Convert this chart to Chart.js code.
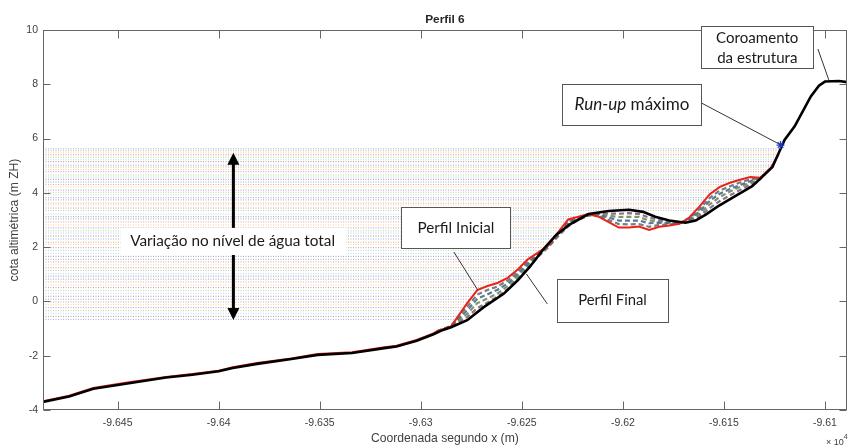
<!DOCTYPE html>
<html><head><meta charset="utf-8">
<script src="https://cdn.jsdelivr.net/npm/chart.js@4.4.0/dist/chart.umd.min.js"></script>
<style>html,body{margin:0;padding:0;background:#fff;}canvas{display:block;}</style>
</head><body>
<canvas id="c" width="852" height="446"></canvas>
<script>
// ---------------- DATA ----------------
const titleText = 'Perfil 6';
const xTitle = 'Coordenada segundo x (m)';
const yTitle = 'cota altimétrica (m ZH)';
const X_MIN = -96486.9, X_MAX = -96089.2, Y_MIN = -4, Y_MAX = 10;
const xTicks = [-96450, -96400, -96350, -96300, -96250, -96200, -96150, -96100];
const xTickLabels = ['-9.645', '-9.64', '-9.635', '-9.63', '-9.625', '-9.62', '-9.615', '-9.61'];
const yTicks = [-4, -2, 0, 2, 4, 6, 8, 10];

// Final profile (black)
const finalX = [-96487,-96474,-96462,-96446,-96426,-96413,-96400,-96393,-96381,-96364,-96351,-96334,-96318,-96312,-96302,-96294,-96289,-96285,-96277,-96269,-96259,-96252,-96246,-96239,-96233,-96226,-96217,-96207,-96197,-96190,-96184,-96177,-96169,-96164,-96159,-96153,-96144,-96136,-96133,-96126,-96123,-96120,-96115,-96111,-96107,-96103,-96100,-96093,-96089];
const finalY = [-3.70,-3.50,-3.22,-3.03,-2.80,-2.70,-2.57,-2.45,-2.30,-2.12,-1.97,-1.90,-1.72,-1.66,-1.45,-1.22,-1.05,-0.95,-0.69,-0.22,0.28,0.78,1.28,1.95,2.45,2.85,3.22,3.33,3.38,3.30,3.12,2.98,2.90,2.98,3.20,3.50,3.90,4.25,4.45,4.95,5.45,5.95,6.45,7.00,7.55,7.95,8.10,8.12,8.08];

// Initial profile (red)
const initX = [-96487,-96474,-96462,-96446,-96426,-96413,-96400,-96393,-96381,-96364,-96351,-96334,-96318,-96312,-96302,-96294,-96292,-96285,-96277,-96272,-96267,-96262,-96257,-96252,-96247,-96242,-96237,-96232,-96227,-96222,-96217,-96212,-96207,-96202,-96197,-96192,-96187,-96182,-96177,-96172,-96167,-96162,-96157,-96152,-96147,-96142,-96137,-96132,-96127,-96123];
const initY = [-3.68,-3.47,-3.19,-3.00,-2.78,-2.67,-2.55,-2.42,-2.27,-2.10,-1.94,-1.87,-1.69,-1.63,-1.42,-1.19,-1.10,-0.92,-0.06,0.42,0.57,0.68,0.87,1.18,1.55,1.80,2.05,2.55,3.02,3.12,3.22,3.12,2.92,2.72,2.72,2.76,2.63,2.75,2.80,2.86,3.10,3.50,3.95,4.22,4.37,4.48,4.58,4.56,4.90,5.40];

// Intermediate profiles (dashed)
const midX = [-96292,-96285,-96277,-96272,-96267,-96262,-96257,-96252,-96247,-96242,-96237,-96232,-96227,-96222,-96217,-96212,-96207,-96202,-96197,-96192,-96187,-96182,-96177,-96172,-96167,-96162,-96157,-96152,-96147,-96142,-96137,-96132,-96127];
const mid1Y = [-1.10,-0.90,-0.19,0.25,0.42,0.55,0.77,1.09,1.46,1.76,2.03,2.50,2.95,3.09,3.21,3.15,3.00,2.85,2.84,2.85,2.75,2.82,2.84,2.88,3.06,3.40,3.82,4.09,4.24,4.38,4.50,4.55,4.90];
const mid2Y = [-1.10,-0.91,-0.32,0.10,0.26,0.43,0.66,1.00,1.38,1.73,2.02,2.47,2.90,3.06,3.19,3.18,3.09,2.98,2.98,2.98,2.88,2.90,2.88,2.89,3.02,3.32,3.71,3.97,4.14,4.29,4.43,4.53,4.90];
const mid3Y = [-1.10,-0.92,-0.45,-0.06,0.11,0.30,0.56,0.91,1.29,1.69,2.01,2.44,2.84,3.03,3.17,3.21,3.16,3.11,3.12,3.11,2.98,2.95,2.91,2.90,2.99,3.22,3.58,3.85,4.05,4.22,4.37,4.52,4.90];
const mid4Y = [-1.10,-0.93,-0.57,-0.25,-0.04,0.18,0.45,0.82,1.20,1.64,1.99,2.40,2.77,3.00,3.16,3.23,3.24,3.23,3.25,3.22,3.09,3.01,2.95,2.91,2.95,3.14,3.44,3.70,3.91,4.11,4.30,4.51,4.90];
const midYs = [mid1Y, mid2Y, mid3Y, mid4Y];

// Water levels (dotted horizontal lines) and where each one meets the profile
const waterLevels = [5.62,5.55,5.47,5.40,5.31,5.22,5.15,5.02,4.95,4.86,4.78,4.66,4.58,4.50,4.40,4.31,4.22,4.10,4.02,3.93,3.82,3.74,3.62,3.55,3.44,3.35,3.22,3.12,3.04,2.93,2.82,2.71,2.60,2.52,2.41,2.30,2.18,2.10,1.98,1.88,1.77,1.66,1.55,1.46,1.35,1.24,1.14,1.02,0.93,0.82,0.72,0.60,0.51,0.40,0.30,0.19,0.08,-0.02,-0.12,-0.23,-0.34,-0.44,-0.55,-0.66];
const waterEnds = [-96122,-96123,-96123.5,-96124,-96124.5,-96125,-96125.5,-96126,-96126.5,-96127,-96128,-96130,-96132,-96136,-96144,-96148,-96151,-96153,-96155,-96157,-96158,-96159,-96160,-96161,-96162,-96163,-96218,-96224,-96226,-96229,-96230,-96231.5,-96232,-96233,-96234,-96235,-96236,-96237,-96238,-96240,-96242.5,-96244.5,-96246.5,-96248,-96249.5,-96251.5,-96253,-96255,-96256.5,-96258.5,-96261,-96265,-96269,-96272,-96274,-96275,-96276,-96277,-96278,-96279,-96280,-96281,-96282,-96283];

// Maximum run-up point
const runupX = [-96122];
const runupY = [5.76];

// Annotation texts
const txtVariacao = 'Variação no nível de água total';
const txtInicial = 'Perfil Inicial';
const txtFinal = 'Perfil Final';
const txtRunupItalic = 'Run-up';
const txtRunupRest = ' máximo';
const txtCoroa = ['Coroamento', 'da estrutura'];

// ---------------- LAYOUT (data coords for annotations) ----------------
const NOTES = {
  variacao: { box: [-96448.5, 2.71, -96336.8, 1.71], center: [-96393.1, 2.21], width: 205, arrowX: -96392.7, arrowTop: 5.48, arrowBottom: -0.68 },
  inicial: { box: [-96309.7, 3.48, -96255.6, 1.97], center: [-96282.6, 2.71], width: 77, leader: [[-96283.6, 1.82], [-96271.8, 0.42]] },
  final: { box: [-96232.4, 0.83, -96177.8, -0.76], center: [-96205.1, 0.03], width: 68.6, leader: [[-96237.4, -0.09], [-96247.7, 1.01]] },
  runup: { box: [-96230.0, 8.01, -96161.1, 6.50], center: [-96195.5, 7.24], width: 118, leader: [[-96161.1, 7.31], [-96121.7, 5.76]] },
  coroa: { box: [-96161.1, 10.15, -96106.0, 8.60], center: [-96133.5, 9.71, 8.97], width: 82.4, leader: [[-96103.5, 9.30], [-96098.1, 8.16]] }
};
const CALLOUT_FONT = 'Lato, "Open Sans", sans-serif';
const AXIS_FONT = '"Liberation Sans", Arial, sans-serif';

const matlab = [[0,114,189],[217,83,25],[237,177,32],[126,47,142],[119,172,48],[77,190,238],[162,20,47]];
const midColors = ['rgba(110,110,110,0.9)','rgba(70,105,150,0.9)','rgba(110,140,80,0.9)','rgba(130,95,130,0.9)'];

// ---------------- DATASETS ----------------
const zip = (xs, ys) => xs.map((v, i) => ({x: v, y: ys[i]}));
const datasets = [];
datasets.push({ data: zip(finalX, finalY), borderColor: '#000', borderWidth: 2.6, showLine: true, pointRadius: 0, order: 1 });
datasets.push({ data: zip(runupX, runupY), borderColor: '#1f3fd0', backgroundColor: '#1f3fd0', pointStyle: 'star', pointRadius: 4, borderWidth: 1.2, showLine: false, order: 0 });
datasets.push({ data: zip(initX, initY), borderColor: '#e8231b', borderWidth: 2, showLine: true, pointRadius: 0, order: 2 });
midYs.forEach((ys, i) => datasets.push({ data: zip(midX, ys), borderColor: midColors[i], borderWidth: 2.2, borderDash: [5, 3], showLine: true, pointRadius: 0, order: 3 }));
waterLevels.forEach((lv, i) => {
  const c = matlab[i % 7];
  datasets.push({ data: [{x: X_MIN, y: lv}, {x: waterEnds[i], y: lv}], borderColor: `rgba(${c[0]},${c[1]},${c[2]},0.5)`, borderWidth: 1, borderDash: [1, 1.5], showLine: true, pointRadius: 0, order: 10 });
});

// ---------------- DECORATION PLUGIN ----------------
function fit(ctx, text, style, family, target) {
  ctx.font = `${style} 100px ${family}`;
  return 100 * target / ctx.measureText(text).width;
}
const deco = {
  id: 'deco',
  afterDraw(chart) {
    const {ctx, chartArea: a, scales: {x: sx, y: sy}} = chart;
    const X = v => sx.getPixelForValue(v), Y = v => sy.getPixelForValue(v);
    ctx.save();
    // frame and inward ticks
    ctx.strokeStyle = '#666'; ctx.lineWidth = 1;
    const L = Math.round(a.left) + 0.5, R = Math.round(a.right) - 0.5, T = Math.round(a.top) + 0.5, B = Math.round(a.bottom) - 0.5;
    ctx.strokeRect(L, T, R - L, B - T);
    ctx.beginPath();
    xTicks.forEach(v => { const px = Math.round(X(v)) + 0.5; ctx.moveTo(px, B); ctx.lineTo(px, B - 8); ctx.moveTo(px, T); ctx.lineTo(px, T + 8); });
    yTicks.forEach(v => { const py = Math.round(Y(v)) + 0.5; ctx.moveTo(L, py); ctx.lineTo(L + 7, py); ctx.moveTo(R, py); ctx.lineTo(R - 7, py); });
    ctx.stroke();

    // water-level arrow
    const n = NOTES.variacao;
    const ax = X(n.arrowX), at = Y(n.arrowTop), ab = Y(n.arrowBottom);
    ctx.strokeStyle = '#000'; ctx.fillStyle = '#000'; ctx.lineWidth = 3;
    ctx.beginPath(); ctx.moveTo(ax, at + 10); ctx.lineTo(ax, ab - 10); ctx.stroke();
    ctx.beginPath(); ctx.moveTo(ax, at); ctx.lineTo(ax - 6, at + 12); ctx.lineTo(ax + 6, at + 12); ctx.closePath(); ctx.fill();
    ctx.beginPath(); ctx.moveTo(ax, ab); ctx.lineTo(ax - 6, ab - 12); ctx.lineTo(ax + 6, ab - 12); ctx.closePath(); ctx.fill();
    ctx.fillStyle = '#fff';
    ctx.fillRect(X(n.box[0]), Y(n.box[1]), X(n.box[2]) - X(n.box[0]), Y(n.box[3]) - Y(n.box[1]));
    ctx.fillStyle = '#1a1a1a'; ctx.textAlign = 'center'; ctx.textBaseline = 'middle';
    let s = fit(ctx, txtVariacao, 'normal', CALLOUT_FONT, n.width);
    ctx.font = `${s}px ${CALLOUT_FONT}`;
    ctx.fillText(txtVariacao, X(n.center[0]), Y(n.center[1]));

    // callouts
    const box = (b) => {
      const x0 = Math.round(X(b[0])) + 0.5, y0 = Math.round(Y(b[1])) + 0.5, x1 = Math.round(X(b[2])) + 0.5, y1 = Math.round(Y(b[3])) + 0.5;
      ctx.fillStyle = '#fff'; ctx.fillRect(x0, y0, x1 - x0, y1 - y0);
      ctx.strokeStyle = '#555'; ctx.lineWidth = 1; ctx.strokeRect(x0, y0, x1 - x0, y1 - y0);
    };
    const leader = (l) => {
      ctx.strokeStyle = '#333'; ctx.lineWidth = 1;
      ctx.beginPath(); ctx.moveTo(X(l[0][0]), Y(l[0][1])); ctx.lineTo(X(l[1][0]), Y(l[1][1])); ctx.stroke();
    };
    [NOTES.inicial, NOTES.final, NOTES.runup, NOTES.coroa].forEach(c => { leader(c.leader); box(c.box); });
    ctx.fillStyle = '#1a1a1a'; ctx.textAlign = 'center'; ctx.textBaseline = 'middle';
    s = fit(ctx, txtInicial, 'normal', CALLOUT_FONT, NOTES.inicial.width);
    ctx.font = `${s}px ${CALLOUT_FONT}`; ctx.fillText(txtInicial, X(NOTES.inicial.center[0]), Y(NOTES.inicial.center[1]));
    s = fit(ctx, txtFinal, 'normal', CALLOUT_FONT, NOTES.final.width);
    ctx.font = `${s}px ${CALLOUT_FONT}`; ctx.fillText(txtFinal, X(NOTES.final.center[0]), Y(NOTES.final.center[1]));
    s = fit(ctx, txtCoroa[0], 'normal', CALLOUT_FONT, NOTES.coroa.width);
    ctx.font = `${s}px ${CALLOUT_FONT}`;
    ctx.fillText(txtCoroa[0], X(NOTES.coroa.center[0]), Y(NOTES.coroa.center[1]));
    ctx.fillText(txtCoroa[1], X(NOTES.coroa.center[0]), Y(NOTES.coroa.center[2]));
    // run-up with italic part
    s = fit(ctx, txtRunupItalic + txtRunupRest, 'normal', CALLOUT_FONT, NOTES.runup.width);
    ctx.font = `italic ${s}px ${CALLOUT_FONT}`; const w1 = ctx.measureText(txtRunupItalic).width;
    ctx.font = `${s}px ${CALLOUT_FONT}`; const w2 = ctx.measureText(txtRunupRest).width;
    let sx0 = X(NOTES.runup.center[0]) - (w1 + w2) / 2; const ry = Y(NOTES.runup.center[1]);
    ctx.textAlign = 'left';
    ctx.font = `italic ${s}px ${CALLOUT_FONT}`; ctx.fillText(txtRunupItalic, sx0, ry);
    ctx.font = `${s}px ${CALLOUT_FONT}`; ctx.fillText(txtRunupRest, sx0 + w1, ry);

    // titles
    ctx.fillStyle = '#262626'; ctx.textAlign = 'center'; ctx.textBaseline = 'middle';
    s = fit(ctx, titleText, 'bold', AXIS_FONT, 39.5);
    ctx.font = `bold ${s}px ${AXIS_FONT}`; ctx.fillText(titleText, (a.left + a.right) / 2, a.top - 10);
    ctx.fillStyle = '#404040';
    s = fit(ctx, xTitle, 'normal', AXIS_FONT, 148);
    ctx.font = `${s}px ${AXIS_FONT}`; ctx.fillText(xTitle, (a.left + a.right) / 2, a.bottom + 29);
    ctx.save(); ctx.translate(15, (a.top + a.bottom) / 2); ctx.rotate(-Math.PI / 2);
    ctx.fillText(yTitle, 0, 0); ctx.restore();
    // exponent
    ctx.textAlign = 'left'; ctx.textBaseline = 'alphabetic';
    ctx.font = `9px ${AXIS_FONT}`; ctx.fillText('\u00d7 10', 826, a.bottom + 35);
    const ew = ctx.measureText('\u00d7 10').width;
    ctx.font = `7px ${AXIS_FONT}`; ctx.fillText('4', 826 + ew, a.bottom + 29);
    ctx.restore();
  }
};

new Chart(document.getElementById('c').getContext('2d'), {
  type: 'scatter',
  data: { datasets },
  options: {
    responsive: false, animation: false, devicePixelRatio: 1,
    layout: { padding: { top: 30, right: 1, left: 0, bottom: 0 } },
    plugins: { legend: { display: false }, tooltip: { enabled: false }, title: { display: false } },
    scales: {
      x: {
        type: 'linear', min: X_MIN, max: X_MAX,
        grid: { display: false, drawTicks: false }, border: { display: false },
        afterBuildTicks: s => { s.ticks = xTicks.map(v => ({ value: v })); },
        ticks: { padding: 7, maxRotation: 0, autoSkip: false, color: '#404040', font: { family: AXIS_FONT, size: 10.5 },
          callback: (v) => xTickLabels[xTicks.indexOf(v)] },
        afterFit: s => { s.height = 36; }
      },
      y: {
        type: 'linear', min: Y_MIN, max: Y_MAX,
        grid: { display: false, drawTicks: false }, border: { display: false },
        afterBuildTicks: s => { s.ticks = yTicks.map(v => ({ value: v })); },
        ticks: { padding: 5, color: '#404040', font: { family: AXIS_FONT, size: 10.5 } },
        afterFit: s => { s.width = 43; }
      }
    }
  },
  plugins: [deco]
});
</script></body></html>
